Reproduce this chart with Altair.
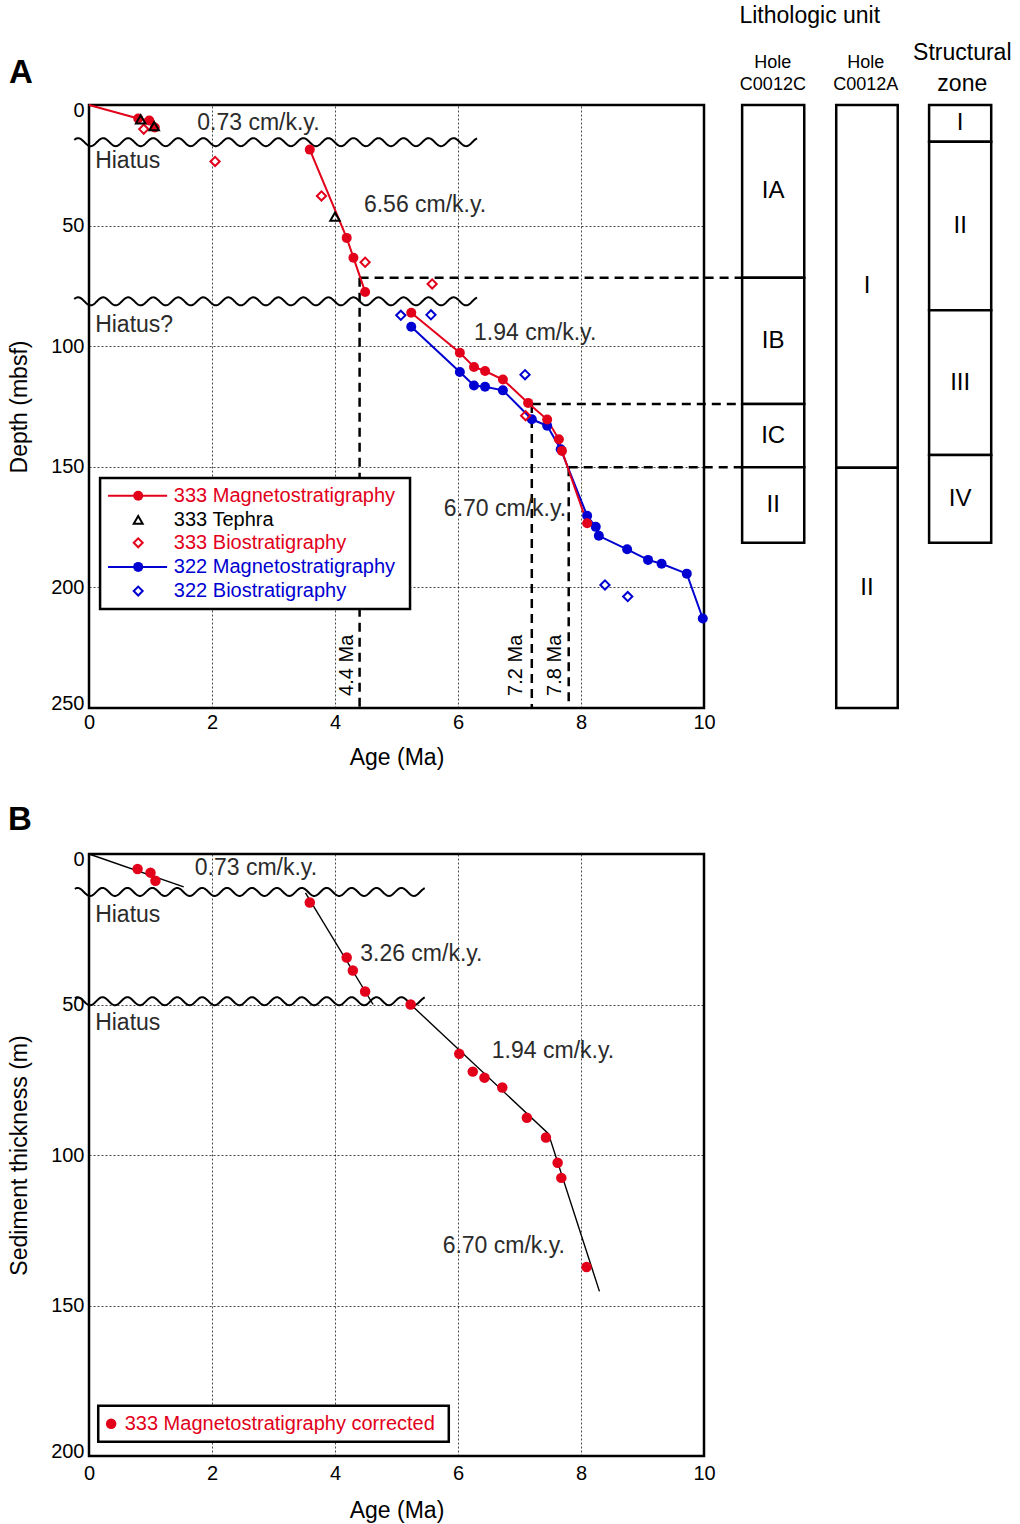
import altair as alt
import numpy as np
import pandas as pd

FONT = "Liberation Sans"
RED = "#e2001a"
BLUE = "#0000d2"
TXT = "#2b2b2b"

# ---------------- Panel A data ----------------
mag333_age = [0.80, 0.98, 1.07, 3.59, 4.19, 4.30, 4.49, 5.24, 6.03, 6.26, 6.44, 6.73, 7.14, 7.45, 7.64, 7.69, 8.10]
mag333_depth = [5.6, 6.4, 9.3, 18.5, 55.1, 63.3, 77.5, 86.1, 102.7, 108.6, 110.3, 113.8, 123.5, 130.4, 138.6, 143.4, 173.4]
mag333_seg = [1, 1, 1, 2, 2, 2, 2, 3, 3, 3, 3, 3, 3, 3, 3, 3, 3]
tephra333_age = [0.84, 1.06, 4.00]
tephra333_depth = [6.0, 8.8, 46.3]
bio333_age = [0.89, 2.05, 3.78, 4.49, 5.58, 7.10]
bio333_depth = [10.0, 23.4, 37.7, 65.2, 74.2, 128.8]
mag322_age = [5.24, 6.03, 6.26, 6.44, 6.73, 7.20, 7.45, 7.67, 8.10, 8.24, 8.29, 8.75, 9.09, 9.31, 9.72, 9.98]
mag322_depth = [91.9, 110.7, 116.3, 116.8, 118.3, 130.3, 133.0, 142.7, 170.3, 174.9, 178.6, 184.2, 188.6, 190.2, 194.3, 212.9]
bio322_age = [5.07, 5.56, 7.09, 8.39, 8.76]
bio322_depth = [87.2, 87.0, 111.8, 199.0, 203.8]

hiatus_a_depth = [15.4, 81.4]
boundary_age = [4.4, 7.2, 7.8]
boundary_depth = [71.6, 124.0, 150.2]
boundary_label = ["4.4 Ma", "7.2 Ma", "7.8 Ma"]
boundary_label_age = [4.20, 6.94, 7.58]
boundary_label_depth = [232.3, 232.3, 232.3]

rate_a_text = ["0.73 cm/k.y.", "6.56 cm/k.y.", "1.94 cm/k.y.", "6.70 cm/k.y.", "Hiatus", "Hiatus?"]
rate_a_age = [1.76, 4.47, 6.26, 5.77, 0.10, 0.10]
rate_a_depth = [7.3, 41.3, 94.4, 167.4, 23.4, 91.1]

c0012c_unit = ["IA", "IB", "IC", "II"]
c0012c_top = [0.0, 71.6, 124.0, 150.2]
c0012c_base = [71.6, 124.0, 150.2, 181.5]
c0012a_unit = ["I", "II"]
c0012a_top = [0.0, 150.4]
c0012a_base = [150.4, 250.0]
struct_unit = ["I", "II", "III", "IV"]
struct_top = [0.0, 15.2, 85.1, 145.1]
struct_base = [15.2, 85.1, 145.1, 181.5]

legend_a_text = ["333 Magnetostratigraphy", "333 Tephra", "333 Biostratigraphy",
                 "322 Magnetostratigraphy", "322 Biostratigraphy"]
legend_a_color = [RED, "black", RED, BLUE, BLUE]

# ---------------- Panel B data ----------------
magc_age = [0.79, 1.00, 1.08, 3.59, 4.19, 4.29, 4.49, 5.23, 6.02, 6.24, 6.43, 6.72, 7.12, 7.43, 7.62, 7.68, 8.09]
magc_thick = [5.0, 6.2, 8.9, 16.1, 34.4, 38.7, 45.7, 50.0, 66.4, 72.3, 74.3, 77.6, 87.6, 94.2, 102.6, 107.6, 137.2]
fit_age = [0.00, 1.54, 3.52, 4.62, 5.20, 7.47, 8.30]
fit_thick = [0.0, 10.9, 12.9, 50.0, 49.4, 92.9, 145.3]
fit_seg = [1, 1, 2, 2, 3, 3, 3]
hiatus_b_depth = [12.6, 48.9]
rate_b_text = ["0.73 cm/k.y.", "Hiatus", "3.26 cm/k.y.", "Hiatus", "1.94 cm/k.y.", "6.70 cm/k.y."]
rate_b_age = [1.72, 0.10, 4.41, 0.10, 6.55, 5.75]
rate_b_depth = [4.7, 20.3, 33.3, 56.0, 65.3, 130.3]

# ---------------- layout constants (axis units) ----------------
COL_X = [(10.62, 11.63), (12.15, 13.15), (13.66, 14.67)]


def xenc(field="age", domain=(0, 10), lp=4, tp=14):
    return alt.X(f"{field}:Q", scale=alt.Scale(domain=list(domain), nice=False, zero=False),
                 axis=alt.Axis(values=[0, 2, 4, 6, 8, 10], title="Age (Ma)", labelFlush=False,
                               labelPadding=lp, titlePadding=tp, format="d"))


def yenc(field, domain, title, vals):
    return alt.Y(f"{field}:Q", scale=alt.Scale(domain=list(domain), reverse=True, nice=False, zero=False),
                 axis=alt.Axis(values=vals, title=title, labelFlush=True, labelFlushOffset=5,
                               labelPadding=5, titlePadding=19, format="d"))


def wave(center, a0, a1, amp, period, crest):
    xs = np.linspace(a0, a1, 700)
    ys = center - amp * np.cos(2 * np.pi * (xs - crest) / period)
    return xs, ys


# ================= PANEL A =================
YA = lambda f="depth": yenc(f, (0, 250), "Depth (mbsf)", [0, 50, 100, 150, 200, 250])
XA = lambda f="age": xenc(f)

mag333 = pd.DataFrame({"age": mag333_age, "depth": mag333_depth, "seg": mag333_seg})
mag333_line = pd.concat([pd.DataFrame({"age": [0.0], "depth": [0.0], "seg": [1]}), mag333])
mag322 = pd.DataFrame({"age": mag322_age, "depth": mag322_depth})

wrows = []
for i, d in enumerate(hiatus_a_depth):
    xs, ys = wave(d, -0.24, 6.31, 1.66, 0.407, 0.23)
    for a, b in zip(xs, ys):
        wrows.append({"age": a, "depth": b, "w": i})
wave_a = pd.DataFrame(wrows)

bnd = pd.DataFrame({"age": boundary_age, "depth": boundary_depth,
                    "age2": [COL_X[0][0]] * 3, "depth2": [250.0] * 3})
bnd_lab = pd.DataFrame({"age": boundary_label_age, "depth": boundary_label_depth, "label": boundary_label})

layers_a = []
layers_a.append(alt.Chart(wave_a).mark_line(color="black", strokeWidth=2).encode(
    x=XA(), y=YA(), detail="w:N"))
layers_a.append(alt.Chart(bnd).mark_rule(color="black", strokeWidth=2.5, strokeDash=[9, 6]).encode(
    x=XA(), x2="age2:Q", y=YA(), y2=alt.Y2("depth:Q")))
layers_a.append(alt.Chart(bnd).mark_rule(color="black", strokeWidth=2.5, strokeDash=[9, 6]).encode(
    x=XA(), y=YA(), y2="depth2:Q"))
layers_a.append(alt.Chart(bnd_lab).mark_text(font=FONT, fontSize=20, angle=270, align="center",
                                             baseline="middle", color="black").encode(
    x=XA(), y=YA(), text="label:N"))
layers_a.append(alt.Chart(mag322).mark_line(color=BLUE, strokeWidth=2).encode(x=XA(), y=YA()))
layers_a.append(alt.Chart(mag333_line).mark_line(color=RED, strokeWidth=2).encode(
    x=XA(), y=YA(), detail="seg:N"))
layers_a.append(alt.Chart(pd.DataFrame({"age": bio322_age, "depth": bio322_depth})).mark_point(
    shape="diamond", filled=False, color=BLUE, strokeWidth=2, size=85, opacity=1).encode(x=XA(), y=YA()))
layers_a.append(alt.Chart(mag322).mark_circle(color=BLUE, size=100, opacity=1).encode(x=XA(), y=YA()))
layers_a.append(alt.Chart(mag333).mark_circle(color=RED, size=100, opacity=1).encode(x=XA(), y=YA()))
layers_a.append(alt.Chart(pd.DataFrame({"age": bio333_age, "depth": bio333_depth})).mark_point(
    shape="diamond", filled=False, color=RED, strokeWidth=2, size=85, opacity=1).encode(x=XA(), y=YA()))
layers_a.append(alt.Chart(pd.DataFrame({"age": tephra333_age, "depth": tephra333_depth})).mark_point(
    shape="triangle-up", filled=False, color="black", strokeWidth=2, size=90, opacity=1).encode(x=XA(), y=YA()))

rate_a = pd.DataFrame({"age": rate_a_age, "depth": rate_a_depth, "t": rate_a_text})
layers_a.append(alt.Chart(rate_a).mark_text(font=FONT, fontSize=23, align="left", baseline="middle",
                                            color=TXT).encode(x=XA(), y=YA(), text="t:N"))

# legend A
leg_rows = [162.0, 172.0, 181.5, 191.5, 201.5]
leg_box = pd.DataFrame({"age": [0.18], "age2": [5.22], "depth": [154.6], "depth2": [209.0]})
layers_a.append(alt.Chart(leg_box).mark_rect(fill="white", stroke="black", strokeWidth=2.5).encode(
    x=XA(), x2="age2:Q", y=YA(), y2="depth2:Q"))
leg_lines = pd.DataFrame({"age": [0.31, 0.31], "age2": [1.27, 1.27], "depth": [leg_rows[0], leg_rows[3]],
                          "c": [RED, BLUE]})
layers_a.append(alt.Chart(leg_lines).mark_rule(strokeWidth=2).encode(
    x=XA(), x2="age2:Q", y=YA(), color=alt.Color("c:N", scale=None)))
leg_circ = pd.DataFrame({"age": [0.80, 0.80], "depth": [leg_rows[0], leg_rows[3]], "c": [RED, BLUE]})
layers_a.append(alt.Chart(leg_circ).mark_circle(size=100, opacity=1).encode(
    x=XA(), y=YA(), color=alt.Color("c:N", scale=None)))
leg_open = pd.DataFrame({"age": [0.80, 0.80, 0.80], "depth": [leg_rows[1], leg_rows[2], leg_rows[4]],
                         "c": ["black", RED, BLUE], "s": ["triangle-up", "diamond", "diamond"]})
layers_a.append(alt.Chart(leg_open).mark_point(filled=False, strokeWidth=2, size=80, opacity=1).encode(
    x=XA(), y=YA(), color=alt.Color("c:N", scale=None), shape=alt.Shape("s:N", scale=None)))
leg_txt = pd.DataFrame({"age": [1.38] * 5, "depth": leg_rows, "t": legend_a_text, "c": legend_a_color})
layers_a.append(alt.Chart(leg_txt).mark_text(font=FONT, fontSize=20, align="left", baseline="middle").encode(
    x=XA(), y=YA(), text="t:N", color=alt.Color("c:N", scale=None)))

# lithology / structure columns
col_rows = []
for (x0, x1), units, tops, bases in [(COL_X[0], c0012c_unit, c0012c_top, c0012c_base),
                                     (COL_X[1], c0012a_unit, c0012a_top, c0012a_base),
                                     (COL_X[2], struct_unit, struct_top, struct_base)]:
    for u, t, b in zip(units, tops, bases):
        col_rows.append({"age": x0, "age2": x1, "depth": t, "depth2": b, "u": u,
                         "xm": (x0 + x1) / 2, "ym": (t + b) / 2})
cols = pd.DataFrame(col_rows)
layers_a.append(alt.Chart(cols).mark_rect(fill="white", stroke="black", strokeWidth=2.5).encode(
    x=XA(), x2="age2:Q", y=YA(), y2="depth2:Q"))
layers_a.append(alt.Chart(cols).mark_text(font=FONT, fontSize=24, align="center", baseline="middle",
                                          color="black").encode(x=XA("xm"), y=YA("ym"), text="u:N"))

hdr = pd.DataFrame({
    "age": [11.72, 11.12, 11.12, 12.63, 12.63, 14.2, 14.2],
    "depth": [-36.7, -17.6, -8.1, -17.6, -8.1, -21.4, -8.9],
    "t": ["Lithologic unit", "Hole", "C0012C", "Hole", "C0012A", "Structural", "zone"],
    "fs": [23, 18, 18, 18, 18, 23, 23]})
for fs in [23, 18]:
    layers_a.append(alt.Chart(hdr[hdr.fs == fs]).mark_text(font=FONT, fontSize=fs, align="center",
                                                           baseline="middle", color="black").encode(
        x=XA(), y=YA(), text="t:N"))

layers_a.append(alt.Chart(pd.DataFrame({"t": ["A"]})).mark_text(
    font=FONT, fontSize=33, fontWeight="bold", align="center", baseline="middle", color="black").encode(
    x=alt.value(-68), y=alt.value(-32), text="t:N"))

panel_a = alt.layer(*layers_a).properties(width=615, height=603)

# ================= PANEL B =================
YB = lambda f="depth": yenc(f, (0, 200), "Sediment thickness (m)", [0, 50, 100, 150, 200])
XB = lambda f="age": xenc(f, lp=7, tp=16)

wrows = []
for i, d in enumerate(hiatus_b_depth):
    xs, ys = wave(d, -0.23, 5.46, 1.33, 0.405, 0.22)
    for a, b in zip(xs, ys):
        wrows.append({"age": a, "depth": b, "w": i})
wave_b = pd.DataFrame(wrows)

layers_b = []
layers_b.append(alt.Chart(wave_b).mark_line(color="black", strokeWidth=2).encode(
    x=XB(), y=YB(), detail="w:N"))
layers_b.append(alt.Chart(pd.DataFrame({"age": fit_age, "depth": fit_thick, "seg": fit_seg})).mark_line(
    color="black", strokeWidth=1.4).encode(x=XB(), y=YB(), detail="seg:N"))
layers_b.append(alt.Chart(pd.DataFrame({"age": magc_age, "depth": magc_thick})).mark_circle(
    color=RED, size=110, opacity=1).encode(x=XB(), y=YB()))
rate_b = pd.DataFrame({"age": rate_b_age, "depth": rate_b_depth, "t": rate_b_text})
layers_b.append(alt.Chart(rate_b).mark_text(font=FONT, fontSize=23, align="left", baseline="middle",
                                            color=TXT).encode(x=XB(), y=YB(), text="t:N"))
legb_box = pd.DataFrame({"age": [0.15], "age2": [5.85], "depth": [183.3], "depth2": [195.3]})
layers_b.append(alt.Chart(legb_box).mark_rect(fill="white", stroke="black", strokeWidth=2.5).encode(
    x=XB(), x2="age2:Q", y=YB(), y2="depth2:Q"))
layers_b.append(alt.Chart(pd.DataFrame({"age": [0.36], "depth": [189.3]})).mark_circle(
    color=RED, size=110, opacity=1).encode(x=XB(), y=YB()))
layers_b.append(alt.Chart(pd.DataFrame({"age": [0.58], "depth": [189.3],
                                        "t": ["333 Magnetostratigraphy corrected"]})).mark_text(
    font=FONT, fontSize=20, align="left", baseline="middle", color=RED).encode(x=XB(), y=YB(), text="t:N"))
layers_b.append(alt.Chart(pd.DataFrame({"t": ["B"]})).mark_text(
    font=FONT, fontSize=33, fontWeight="bold", align="center", baseline="middle", color="black").encode(
    x=alt.value(-69), y=alt.value(-34), text="t:N"))

panel_b = alt.layer(*layers_b).properties(width=615, height=602)

chart = alt.vconcat(panel_a, panel_b, spacing=31).properties(
    padding={"left": 6, "top": 4, "right": 0, "bottom": 0}
).configure_view(stroke="black", strokeWidth=2.5).configure_axis(
    grid=True, gridColor="black", gridDash=[2, 2], gridWidth=0.8, gridOpacity=0.9,
    domain=False, ticks=False, labelFont=FONT, titleFont=FONT, labelFontSize=20, titleFontSize=23,
    labelColor="black", titleColor="black", titleFontWeight="normal"
).configure_concat(spacing=31)

chart.save("out.html", embed_options={"renderer": "svg", "actions": False})
